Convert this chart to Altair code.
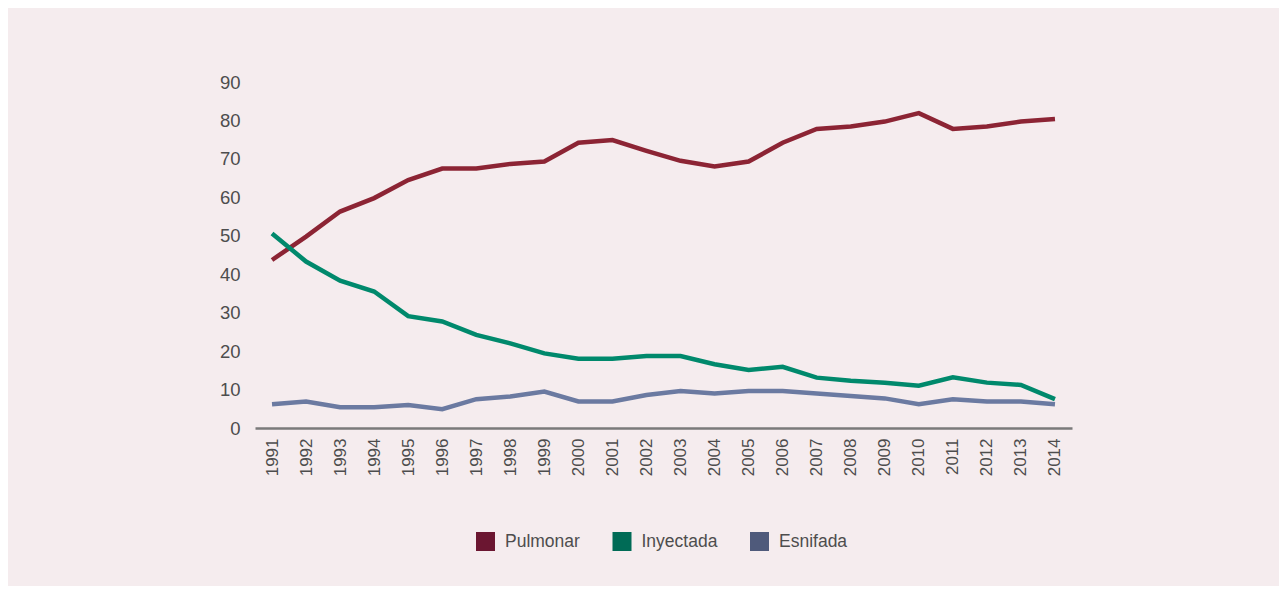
import altair as alt
import pandas as pd

years = [str(y) for y in range(1991, 2015)]
pulmonar = [43.7, 49.8, 56.3, 59.8, 64.5, 67.5, 67.5, 68.7, 69.3, 74.2, 74.9, 72.1, 69.5,
            68.0, 69.3, 74.2, 77.8, 78.4, 79.7, 81.9, 77.8, 78.4, 79.7, 80.4]
inyectada = [50.6, 43.3, 38.3, 35.5, 29.1, 27.7, 24.2, 22.0, 19.4, 18.0, 18.0, 18.7, 18.7,
             16.6, 15.1, 15.9, 13.1, 12.3, 11.8, 11.0, 13.2, 11.8, 11.2, 7.5]
esnifada = [6.2, 6.9, 5.4, 5.4, 6.0, 4.9, 7.5, 8.2, 9.5, 6.9, 6.9, 8.6, 9.6,
            9.0, 9.6, 9.6, 9.0, 8.3, 7.7, 6.2, 7.5, 6.9, 6.9, 6.2]
series = ["Pulmonar", "Inyectada", "Esnifada"]
line_colors = ["#8c2434", "#00896c", "#6b7aa1"]
legend_colors = ["#6b1631", "#006b56", "#4f5a7b"]
y_ticks = [0, 10, 20, 30, 40, 50, 60, 70, 80, 90]

rows = []
for name, vals in zip(series, [pulmonar, inyectada, esnifada]):
    for yr, v in zip(years, vals):
        rows.append({"Año": yr, "Valor": v, "Serie": name, "Tipo": name})
df = pd.DataFrame(rows)

FONT = "Liberation Sans"
TXT = "#4d4d4d"

x_enc = alt.X(
    "Año:O",
    sort=years,
    scale=alt.Scale(type="point", padding=0.5),
    axis=alt.Axis(labelAngle=270, ticks=False, domainColor="#7a7a7a", domainWidth=2.5,
                  labelPadding=10, labelFontSize=17, labelColor=TXT, labelFont=FONT,
                  grid=False),
    title=None,
)
y_enc = alt.Y(
    "Valor:Q",
    scale=alt.Scale(domain=[0, 90], nice=False),
    axis=alt.Axis(values=y_ticks, grid=False, ticks=False, domain=False, labelPadding=15,
                  labelFontSize=18.5, labelColor=TXT, labelFont=FONT),
    title=None,
)

base = alt.Chart(df)
layers = []
for name in series:
    layers.append(
        base.transform_filter(alt.datum.Serie == name)
        .mark_line(strokeWidth=4.5)
        .encode(
            x=x_enc,
            y=y_enc,
            color=alt.Color("Serie:N", scale=alt.Scale(domain=series, range=line_colors), legend=None),
        )
    )

legend_layer = base.mark_square(size=0, opacity=1).encode(
    x=x_enc,
    y=y_enc,
    fill=alt.Fill(
        "Tipo:N",
        scale=alt.Scale(domain=series, range=legend_colors),
        legend=alt.Legend(
            title=None, orient="none", legendX=221, legendY=450, direction="horizontal",
            symbolType="square", symbolSize=361, symbolStrokeWidth=0, symbolOpacity=1,
            labelFontSize=17.5, labelFont=FONT, labelColor=TXT, labelOffset=10,
            columnPadding=32.5,
        ),
    ),
)

chart = (
    alt.layer(*layers, legend_layer)
    .resolve_legend(fill="independent", color="independent")
    .properties(
        width=817, height=346,
        autosize=alt.AutoSizeParams(type="none"),
        padding={"left": 247, "top": 74, "right": 207, "bottom": 158},
        background="#f5ecee",
    )
    .configure_view(stroke=None)
)

chart.save("out.html", embed_options={"renderer": "svg", "actions": False})
